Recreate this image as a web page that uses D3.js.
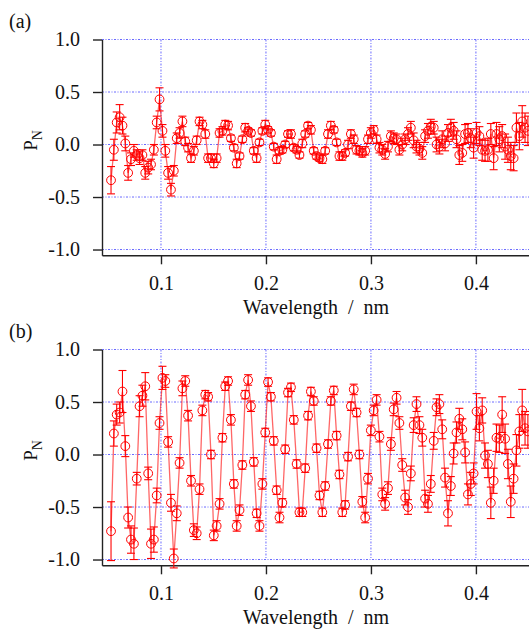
<!DOCTYPE html>
<html>
<head>
<meta charset="utf-8">
<script src="https://cdn.jsdelivr.net/npm/d3@7"></script>
<style>
  body { margin: 0; background: #fff; }
  svg { display: block; }
</style>
</head>
<body>
<div id="chart"></div>
<script>
// wavelength (nm) of each measured point, shared by both panels
var lambda = [
  0.0524, 0.0551, 0.0578, 0.0606, 0.0633, 0.0660, 0.0687, 0.0714, 0.0742, 0.0769,
  0.0796, 0.0823, 0.0850, 0.0878, 0.0905, 0.0932, 0.0959, 0.0986, 0.1014, 0.1041,
  0.1068, 0.1095, 0.1122, 0.1150, 0.1177, 0.1204, 0.1231, 0.1258, 0.1286, 0.1313,
  0.1340, 0.1367, 0.1394, 0.1422, 0.1449, 0.1476, 0.1503, 0.1530, 0.1558, 0.1585,
  0.1612, 0.1639, 0.1666, 0.1694, 0.1721, 0.1748, 0.1775, 0.1802, 0.1830, 0.1857,
  0.1884, 0.1911, 0.1938, 0.1966, 0.1993, 0.2020, 0.2047, 0.2074, 0.2102, 0.2129,
  0.2156, 0.2183, 0.2210, 0.2238, 0.2265, 0.2292, 0.2319, 0.2346, 0.2374, 0.2401,
  0.2428, 0.2455, 0.2482, 0.2510, 0.2537, 0.2564, 0.2591, 0.2618, 0.2646, 0.2673,
  0.2700, 0.2727, 0.2754, 0.2782, 0.2809, 0.2836, 0.2863, 0.2890, 0.2918, 0.2945,
  0.2972, 0.2999, 0.3026, 0.3054, 0.3081, 0.3108, 0.3135, 0.3162, 0.3190, 0.3217,
  0.3244, 0.3271, 0.3298, 0.3326, 0.3353, 0.3380, 0.3407, 0.3434, 0.3462, 0.3489,
  0.3516, 0.3543, 0.3570, 0.3598, 0.3625, 0.3652, 0.3679, 0.3706, 0.3734, 0.3761,
  0.3788, 0.3815, 0.3842, 0.3870, 0.3897, 0.3924, 0.3951, 0.3978, 0.4006, 0.4033,
  0.4060, 0.4087, 0.4114, 0.4142, 0.4169, 0.4196, 0.4223, 0.4250, 0.4278, 0.4305,
  0.4332, 0.4359, 0.4386, 0.4414, 0.4441, 0.4468, 0.4495
];

// panel (a)
var pA = [
  -0.34, -0.05, 0.21, 0.26, 0.18, 0.01, -0.27, -0.14, -0.06, -0.10,
  -0.13, -0.10, -0.27, -0.22, -0.19, -0.05, 0.21, 0.43, 0.13, -0.06,
  -0.27, -0.43, -0.25, 0.06, 0.11, 0.22, 0.03, -0.03, -0.13, -0.06,
  0.04, 0.22, 0.19, 0.10, -0.13, -0.13, -0.18, -0.13, 0.11, 0.13,
  0.19, 0.18, 0.06, -0.03, -0.18, -0.11, 0.05, 0.16, 0.13, 0.11,
  -0.06, -0.13, 0.02, 0.13, 0.19, 0.14, 0.11, -0.02, -0.14, -0.06,
  -0.05, 0.00, 0.10, 0.10, -0.03, -0.05, -0.10, 0.01, 0.10, 0.18,
  0.14, -0.06, -0.11, -0.13, -0.14, -0.06, 0.10, 0.18, 0.14, 0.02,
  -0.11, -0.11, -0.08, 0.00, 0.10, 0.05, -0.05, -0.06, -0.08, -0.06,
  0.05, 0.11, 0.14, 0.05, -0.03, -0.05, -0.09, -0.02, 0.08, 0.06,
  0.05, -0.05, 0.00, 0.05, 0.10, 0.16, 0.04, -0.02, -0.04, -0.08,
  0.08, 0.13, 0.17, 0.16, 0.00, -0.02, 0.05, 0.01, 0.11, 0.16,
  0.13, 0.05, -0.10, -0.08, 0.10, 0.11, 0.06, -0.03, 0.11, 0.08,
  -0.05, -0.06, -0.05, 0.10, -0.13, 0.10, 0.05, 0.08, -0.02, -0.05,
  -0.11, -0.13, 0.16, 0.08, 0.22, 0.16, 0.13
];
var errA = [
  0.13, 0.10, 0.10, 0.12, 0.08, 0.07, 0.07, 0.06, 0.06, 0.05,
  0.06, 0.05, 0.06, 0.06, 0.05, 0.05, 0.06, 0.11, 0.06, 0.06,
  0.06, 0.06, 0.05, 0.05, 0.05, 0.05, 0.04, 0.04, 0.04, 0.04,
  0.04, 0.04, 0.04, 0.04, 0.04, 0.04, 0.04, 0.04, 0.04, 0.04,
  0.04, 0.04, 0.03, 0.03, 0.04, 0.03, 0.03, 0.04, 0.03, 0.03,
  0.03, 0.04, 0.03, 0.03, 0.04, 0.03, 0.03, 0.03, 0.04, 0.03,
  0.03, 0.03, 0.03, 0.04, 0.03, 0.03, 0.03, 0.04, 0.03, 0.03,
  0.04, 0.03, 0.03, 0.03, 0.04, 0.03, 0.04, 0.04, 0.03, 0.03,
  0.04, 0.04, 0.03, 0.04, 0.04, 0.04, 0.04, 0.04, 0.04, 0.04,
  0.04, 0.05, 0.04, 0.04, 0.05, 0.05, 0.05, 0.05, 0.05, 0.05,
  0.05, 0.05, 0.06, 0.05, 0.06, 0.06, 0.07, 0.06, 0.06, 0.06,
  0.06, 0.07, 0.07, 0.06, 0.07, 0.07, 0.08, 0.07, 0.08, 0.08,
  0.08, 0.08, 0.09, 0.08, 0.09, 0.09, 0.09, 0.10, 0.10, 0.09,
  0.10, 0.10, 0.11, 0.10, 0.11, 0.11, 0.12, 0.11, 0.12, 0.12,
  0.13, 0.12, 0.14, 0.13, 0.15, 0.14, 0.14
];

// panel (b)
var pB = [
  -0.73, 0.20, 0.38, 0.40, 0.60, 0.08, -0.60, -0.81, -0.85, -0.23,
  0.46, 0.56, 0.65, -0.18, -0.85, -0.81, -0.39, 0.30, 0.73, 0.70,
  0.12, -0.46, -0.99, -0.56, -0.08, 0.63, 0.70, 0.37, -0.25, -0.72,
  -0.75, -0.33, 0.42, 0.57, 0.55, 0.00, -0.77, -0.68, -0.47, 0.16,
  0.65, 0.70, 0.33, -0.28, -0.68, -0.53, -0.10, 0.57, 0.71, 0.46,
  -0.07, -0.56, -0.68, -0.28, 0.21, 0.69, 0.55, 0.13, -0.34, -0.60,
  -0.46, 0.05, 0.59, 0.64, 0.33, -0.09, -0.55, -0.55, -0.13, 0.37,
  0.60, 0.51, 0.06, -0.39, -0.55, -0.30, 0.10, 0.51, 0.61, 0.18,
  -0.19, -0.55, -0.48, -0.02, 0.46, 0.62, 0.40, 0.00, -0.45, -0.60,
  -0.23, 0.23, 0.42, 0.52, 0.17, -0.38, -0.47, -0.32, 0.10, 0.43,
  0.54, 0.30, -0.10, -0.41, -0.50, -0.18, 0.28, 0.48, 0.28, 0.16,
  -0.42, -0.47, -0.28, 0.13, 0.45, 0.48, 0.24, -0.22, -0.56, -0.30,
  0.01, 0.21, 0.34, 0.24, 0.02, -0.38, -0.28, -0.18, 0.41, 0.25,
  0.42, -0.01, -0.09, -0.46, -0.25, 0.16, 0.15, 0.38, 0.15, -0.09,
  -0.45, -0.23, 0.04, 0.22, 0.42, 0.25, 0.22
];
var errB = [
  0.28, 0.12, 0.10, 0.10, 0.20, 0.10, 0.10, 0.13, 0.15, 0.06,
  0.10, 0.10, 0.13, 0.06, 0.14, 0.12, 0.07, 0.06, 0.11, 0.06,
  0.05, 0.08, 0.09, 0.07, 0.05, 0.07, 0.05, 0.05, 0.05, 0.06,
  0.06, 0.05, 0.05, 0.04, 0.04, 0.04, 0.05, 0.05, 0.05, 0.04,
  0.04, 0.04, 0.05, 0.04, 0.05, 0.05, 0.04, 0.04, 0.05, 0.05,
  0.04, 0.04, 0.05, 0.05, 0.04, 0.04, 0.04, 0.04, 0.04, 0.05,
  0.04, 0.04, 0.04, 0.04, 0.04, 0.04, 0.04, 0.04, 0.04, 0.04,
  0.04, 0.04, 0.04, 0.04, 0.04, 0.04, 0.04, 0.04, 0.04, 0.04,
  0.04, 0.04, 0.04, 0.04, 0.04, 0.05, 0.04, 0.04, 0.05, 0.05,
  0.05, 0.05, 0.05, 0.05, 0.05, 0.06, 0.06, 0.06, 0.06, 0.06,
  0.06, 0.06, 0.06, 0.07, 0.07, 0.07, 0.07, 0.07, 0.08, 0.08,
  0.08, 0.08, 0.08, 0.08, 0.08, 0.09, 0.09, 0.09, 0.12, 0.09,
  0.10, 0.10, 0.10, 0.10, 0.10, 0.10, 0.11, 0.10, 0.17, 0.12,
  0.12, 0.12, 0.13, 0.15, 0.12, 0.13, 0.13, 0.17, 0.14, 0.14,
  0.15, 0.14, 0.15, 0.16, 0.20, 0.16, 0.16
];

var xTicks = [0.1, 0.2, 0.3, 0.4];
var yTicks = [-1.0, -0.5, 0.0, 0.5, 1.0];
var panelNames = ["(a)", "(b)"];
var xTitle = "Wavelength  /  nm";

var serif = "'Liberation Serif', 'Times New Roman', Times, 'DejaVu Serif', serif";

var svgWidth = 529;
var svgHeight = 629;

var svg = d3.select("#chart")
  .append("svg")
  .attr("width", svgWidth)
  .attr("height", svgHeight)
  .style("font-family", serif);

svg.append("rect")
  .attr("width", svgWidth)
  .attr("height", svgHeight)
  .attr("fill", "#fff");

// x scale shared by both panels, right end runs past the picture edge
var xScale = d3.scaleLinear()
  .domain([0.0438, 0.46])
  .range([102, 538.9]);

var gridColor = "#6a6aff";
var red = "#ff0000";

function drawPanel(top, values, errors, name) {
  var g = svg.append("g");

  // y scale: 1.0 at top, a little room below -1.0 down to the x axis
  var yScale = d3.scaleLinear()
    .domain([-1.055, 1.0])
    .range([top + 215.8, top]);

  var pts = lambda.map(function(l, i) {
    return { x: l, y: values[i], e: errors[i] };
  });

  // dotted grid
  g.append("g").selectAll("line")
    .data(yTicks)
    .enter()
    .append("line")
    .attr("x1", xScale.range()[0])
    .attr("x2", svgWidth)
    .attr("y1", d => yScale(d))
    .attr("y2", d => yScale(d))
    .attr("stroke", gridColor)
    .attr("stroke-width", 1)
    .attr("stroke-dasharray", "2,1.5,1,1.5");

  g.append("g").selectAll("line")
    .data(xTicks)
    .enter()
    .append("line")
    .attr("x1", d => xScale(d))
    .attr("x2", d => xScale(d))
    .attr("y1", yScale(1))
    .attr("y2", yScale(-1))
    .attr("stroke", gridColor)
    .attr("stroke-width", 1)
    .attr("stroke-dasharray", "2,1.5,1,1.5");

  // axes
  var leftAxis = d3.axisLeft(yScale)
    .tickValues(yTicks)
    .tickSize(9)
    .tickSizeOuter(0)
    .tickPadding(13)
    .tickFormat(d => d.toFixed(1));

  var bottomAxis = d3.axisBottom(xScale)
    .tickValues(xTicks)
    .tickSize(9)
    .tickSizeOuter(0)
    .tickPadding(12)
    .tickFormat(d => d.toFixed(1));

  var yAxis = g.append("g")
    .attr("transform", `translate(${xScale.range()[0]}, 0)`)
    .call(leftAxis);

  var xAxis = g.append("g")
    .attr("transform", `translate(0, ${yScale.range()[0]})`)
    .call(bottomAxis);

  [yAxis, xAxis].forEach(function(ax) {
    ax.attr("font-family", serif).attr("font-size", 20);
    ax.select(".domain").attr("stroke", "#222").attr("stroke-width", 1.4);
    ax.selectAll(".tick line").attr("stroke", "#222").attr("stroke-width", 1.4);
    ax.selectAll(".tick text")
      .attr("fill", "#111")
      .style("font-family", serif)
      .style("font-size", "20px");
  });

  // connecting line
  var line = d3.line()
    .x(d => xScale(d.x))
    .y(d => yScale(d.y));

  g.append("path")
    .datum(pts)
    .attr("d", line)
    .attr("fill", "none")
    .attr("stroke", red)
    .attr("stroke-opacity", 0.6)
    .attr("stroke-width", 1.3);

  // error bars
  var bars = g.append("g")
    .attr("stroke", red)
    .attr("stroke-width", 1.1);

  bars.selectAll(".bar")
    .data(pts)
    .enter()
    .append("line")
    .attr("x1", d => xScale(d.x))
    .attr("x2", d => xScale(d.x))
    .attr("y1", d => yScale(d.y - d.e))
    .attr("y2", d => yScale(d.y + d.e));

  bars.selectAll(".capTop")
    .data(pts)
    .enter()
    .append("line")
    .attr("x1", d => xScale(d.x) - 4)
    .attr("x2", d => xScale(d.x) + 4)
    .attr("y1", d => yScale(d.y + d.e))
    .attr("y2", d => yScale(d.y + d.e));

  bars.selectAll(".capBottom")
    .data(pts)
    .enter()
    .append("line")
    .attr("x1", d => xScale(d.x) - 4)
    .attr("x2", d => xScale(d.x) + 4)
    .attr("y1", d => yScale(d.y - d.e))
    .attr("y2", d => yScale(d.y - d.e));

  // open circle markers
  g.append("g").selectAll("circle")
    .data(pts)
    .enter()
    .append("circle")
    .attr("cx", d => xScale(d.x))
    .attr("cy", d => yScale(d.y))
    .attr("r", 4.4)
    .attr("fill", "none")
    .attr("stroke", red)
    .attr("stroke-width", 1);

  // axis title
  g.append("text")
    .attr("x", 316)
    .attr("y", top + 274.5)
    .attr("text-anchor", "middle")
    .attr("fill", "#111")
    .style("font-family", serif)
    .style("font-size", "20px")
    .style("white-space", "pre")
    .text(xTitle);

  // P_N label, rotated
  var yLab = g.append("text")
    .attr("transform", `translate(37, ${top + 101}) rotate(-90)`)
    .attr("text-anchor", "middle")
    .attr("fill", "#111")
    .style("font-family", serif)
    .style("font-size", "19px");
  yLab.append("tspan").text("P");
  yLab.append("tspan")
    .attr("dy", 5)
    .style("font-size", "14px")
    .text("N");

  // panel letter
  g.append("text")
    .attr("x", 9)
    .attr("y", top - 11.5)
    .attr("fill", "#111")
    .style("font-family", serif)
    .style("font-size", "20px")
    .text(name);
}

drawPanel(39.5, pA, errA, panelNames[0]);
drawPanel(349.5, pB, errB, panelNames[1]);
</script>
</body>
</html>
